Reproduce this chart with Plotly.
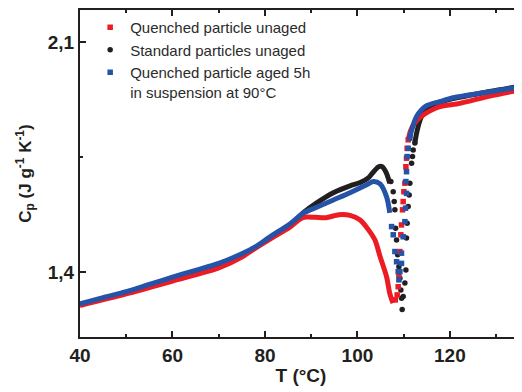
import plotly.graph_objects as go

# ---------------- data ----------------
# Standard particles unaged (black)
black_lo_T  = [40, 50, 60, 70, 75, 78, 81, 85.4, 88.3, 91.2, 94.8, 98.4, 100.6, 102.5, 103.5, 104.6, 105.3, 106.2, 107.0]
black_lo_cp = [1.301, 1.337, 1.378, 1.420, 1.450, 1.475, 1.502, 1.542, 1.580, 1.610, 1.641, 1.662, 1.672, 1.688, 1.705, 1.720, 1.721, 1.703, 1.670]
black_pts_T  = [107.24, 107.74, 107.96, 108.11, 108.26, 108.47, 108.70, 108.97, 109.19, 109.40, 109.55, 109.68,
                109.90, 110.27, 110.49, 110.62, 110.76, 110.98, 111.20, 111.35, 111.72, 111.92, 112.07, 112.43]
black_pts_cp = [1.675, 1.644, 1.614, 1.589, 1.533, 1.497, 1.452, 1.416, 1.381, 1.345, 1.320, 1.286,
                1.325, 1.366, 1.406, 1.503, 1.548, 1.599, 1.634, 1.670, 1.731, 1.751, 1.771, 1.792]
black_hi_T  = [112.43, 112.8, 113.5, 114.2, 115.5, 117.1, 120.0, 128.6, 135.6]
black_hi_cp = [1.792, 1.822, 1.860, 1.883, 1.900, 1.913, 1.925, 1.949, 1.966]

# Quenched particle unaged (red)
red_lo_T  = [40, 50, 60, 70, 75, 76.8, 81.1, 85.4, 87.6, 88.9, 91.0, 93.2, 96.0, 98.4, 100.6, 102.4, 103.8, 104.9, 106.3, 107.0, 107.7]
red_lo_cp = [1.298, 1.333, 1.372, 1.412, 1.445, 1.462, 1.500, 1.536, 1.561, 1.567, 1.566, 1.565, 1.574, 1.572, 1.558, 1.528, 1.497, 1.447, 1.386, 1.335, 1.305]
red_pts_T  = [108.20, 108.60, 108.82, 108.97, 109.19, 109.40, 109.54, 109.76, 109.90, 110.05, 110.27, 110.49, 110.62, 110.76, 110.99]
red_pts_cp = [1.315, 1.330, 1.355, 1.391, 1.462, 1.513, 1.543, 1.589, 1.614, 1.644, 1.670, 1.720, 1.746, 1.776, 1.802]
red_hi_T  = [110.99, 111.5, 112.5, 114.0, 115.7, 117.8, 122.2, 128.6, 135.6]
red_hi_cp = [1.802, 1.830, 1.855, 1.875, 1.890, 1.903, 1.913, 1.935, 1.955]

# Quenched particle aged 5h in suspension at 90 °C (blue)
blue_lo_T  = [40, 45, 50, 55, 60, 65, 70, 75, 78, 81, 85.4, 88.3, 91.2, 94.8, 98.4, 102.0, 103.4, 104.9, 106.3, 107.0]
blue_lo_cp = [1.303, 1.322, 1.340, 1.362, 1.384, 1.405, 1.426, 1.455, 1.477, 1.506, 1.546, 1.579, 1.597, 1.619, 1.641, 1.665, 1.675, 1.668, 1.629, 1.580]
blue_pts_T  = [107.39, 107.75, 108.11, 108.47, 108.82, 108.97, 109.19, 109.54, 109.54, 109.90, 110.27, 110.40, 110.62, 110.49, 110.62, 110.76, 110.99, 111.35]
blue_pts_cp = [1.538, 1.513, 1.462, 1.431, 1.401, 1.376, 1.401, 1.426, 1.457, 1.507, 1.553, 1.594, 1.639, 1.675, 1.705, 1.751, 1.776, 1.807]
blue_hi_T  = [111.35, 111.7, 112.8, 114.9, 117.8, 120.7, 128.6, 135.6]
blue_hi_cp = [1.807, 1.830, 1.873, 1.905, 1.918, 1.930, 1.948, 1.964]

names = ["Quenched particle unaged", "Standard particles unaged",
         "Quenched particle aged 5h<br>in suspension at 90°C"]

x_ticks = [40, 60, 80, 100, 120]
y_ticks = [1.4, 2.1]

# ---------------- styles ----------------
RED = "#ec1c24"
BLACK = "#231f20"
BLUE = "#2453a8"
LW = 5
MS = 5.5
FONT = "Liberation Sans"

fig = go.Figure()

series = [
    (BLACK, "circle", names[1], 2, black_lo_T, black_lo_cp, black_pts_T, black_pts_cp, black_hi_T, black_hi_cp),
    (RED, "square", names[0], 1, red_lo_T, red_lo_cp, red_pts_T, red_pts_cp, red_hi_T, red_hi_cp),
    (BLUE, "square", names[2], 3, blue_lo_T, blue_lo_cp, blue_pts_T, blue_pts_cp, blue_hi_T, blue_hi_cp),
]

for color, sym, name, rank, loT, locp, pT, pcp, hiT, hicp in series:
    for tx, ty in ((loT, locp), (hiT, hicp)):
        fig.add_trace(go.Scatter(x=tx, y=ty, mode="lines", showlegend=False,
                                 line=dict(color=color, width=LW, shape="spline", smoothing=0.8),
                                 hoverinfo="skip"))
    fig.add_trace(go.Scatter(x=pT, y=pcp, mode="markers", name=name, legendrank=rank,
                             marker=dict(color=color, size=MS, symbol=sym)))

axis_common = dict(
    showline=True, linecolor=BLACK, linewidth=2, ticks="inside", tickcolor=BLACK,
    tickwidth=2, ticklen=6, showgrid=False, zeroline=False, automargin=False,
    tickfont=dict(family=FONT, size=19, color=BLACK, weight="bold"),
)

fig.update_xaxes(
    range=[40, 135.6], tickvals=x_ticks, mirror="ticks",
    minor=dict(ticks="inside", ticklen=3, tickwidth=2, tickcolor=BLACK, dtick=10, tick0=40),
    title=dict(text="T (°C)", font=dict(family=FONT, size=19, color=BLACK, weight="bold"), standoff=4),
    **axis_common,
)
fig.update_yaxes(
    range=[1.202, 2.197], tickvals=y_ticks, tickformat=".1f",
    minor=dict(ticks="inside", ticklen=3, tickwidth=2, tickcolor=BLACK, tickvals=[1.75]),
    title=dict(text="C<sub>p</sub> (J g<sup>-1</sup> K<sup>-1</sup>)",
               font=dict(family=FONT, size=17, color=BLACK, weight="bold"), standoff=12),
    **axis_common,
)

# page body has an 8px margin: shift the figure so the plot area lands where the reference has it
fig.update_layout(
    width=514, height=384,
    margin=dict(l=72, r=0, t=2, b=55),
    paper_bgcolor="white", plot_bgcolor="white",
    separators=",.",
    showlegend=True,
    legend=dict(x=0.023, y=0.997, xanchor="left", yanchor="top", valign="top",
                bgcolor="rgba(0,0,0,0)", tracegroupgap=0, itemwidth=30,
                font=dict(family=FONT, size=15, color="#2b2b2b")),
)

fig.write_html("out.html")
